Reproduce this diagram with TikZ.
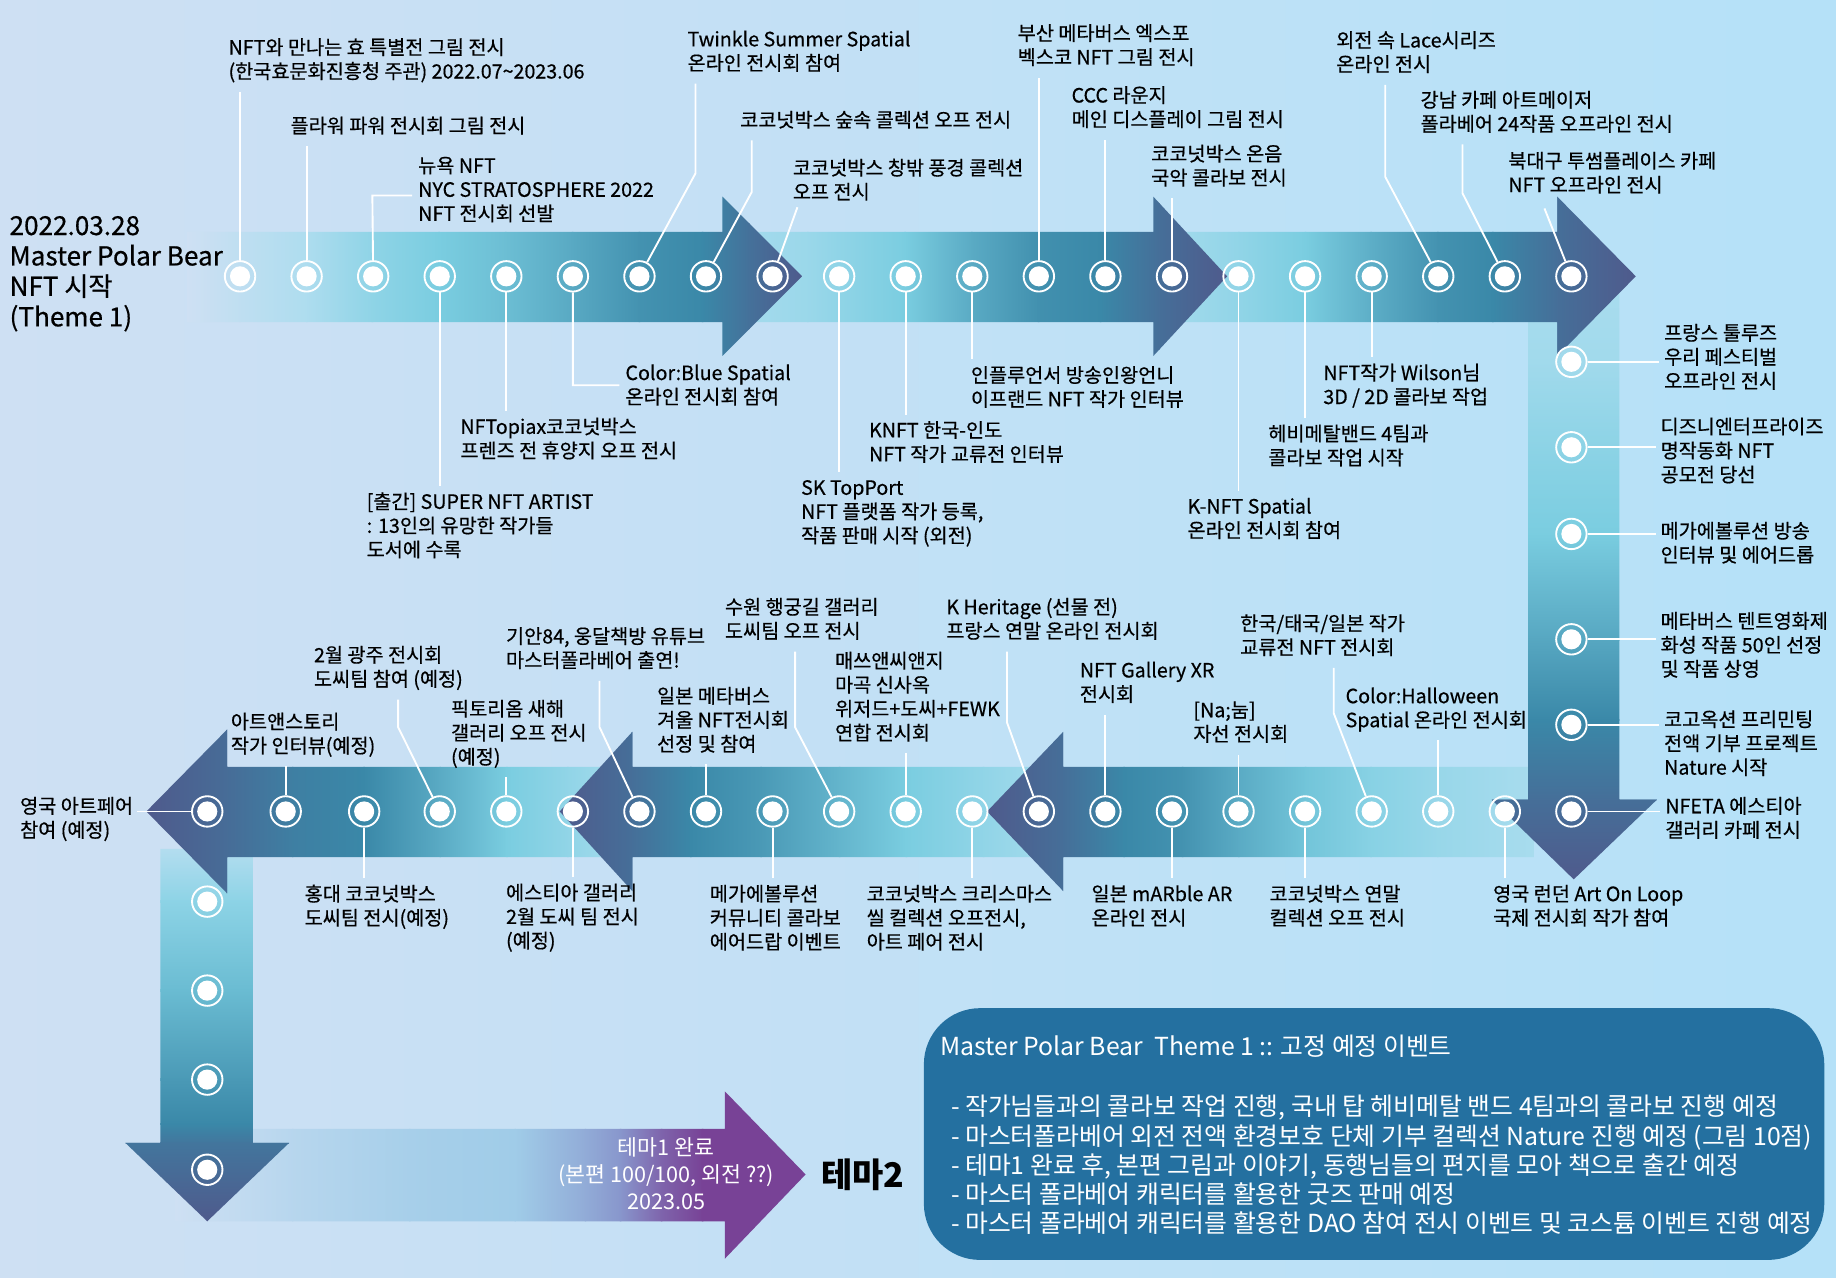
\documentclass[tikz,border=0pt]{standalone}
\usepackage{fontspec}
\setmainfont{Noto Sans CJK KR}
\newfontfamily\medf{Noto Sans CJK KR}[FakeBold=0.5]
\newcommand\lf{\medf\fontsize{16.8}{20.5}\selectfont}
\newcommand\tf{\medf\fontsize{22.3}{26}\selectfont}
\newcommand\boxf{\fontsize{21.2}{24.7}\selectfont}
\newcommand\purf{\fontsize{18.5}{23}\selectfont}
\newcommand\bigf{\fontsize{29}{32}\selectfont\bfseries}
\definecolor{bgL}{RGB}{206,224,243}
\definecolor{bgR}{RGB}{181,225,248}
\definecolor{lightc}{RGB}{168,220,238}
\definecolor{cyanc}{RGB}{122,205,224}
\definecolor{tealc}{RGB}{58,136,168}
\definecolor{slatec}{RGB}{79,90,140}
\definecolor{skyb}{RGB}{160,204,232}
\definecolor{lavc}{RGB}{136,150,204}
\definecolor{purpc}{RGB}{120,66,150}
\definecolor{boxc}{RGB}{36,112,160}
\newcommand\hgrad[5]{%
  \foreach \gx/\gc [remember=\gx as \px (initially #3), remember=\gc as \pc (initially #4)] in {#5}
   {\shade[left color=\pc, right color=\gc] (\px-0.6,#1) rectangle (\gx+0.6,#2);}}
\newcommand\vgrad[5]{%
  \foreach \gy/\gc [remember=\gy as \py (initially #3), remember=\gc as \pc (initially #4)] in {#5}
   {\shade[top color=\pc, bottom color=\gc] (#1,\py-0.6) rectangle (#2,\gy+0.6);}}
\newcommand\lab[4]{\node[lbl] (#1) at (#2,#3-8) {\strut{}#4\strut};}
\begin{document}
\begin{tikzpicture}[x=1pt,y=-1pt,
  lead/.style={draw=white, line width=1.6pt},
  lk/.style={lead, shorten >=5pt},
  dot/.style={circle, minimum size=26pt, inner sep=0pt, draw=white, line width=1.6pt,
    path picture={\fill[white] (path picture bounding box.center) circle (8.6pt);}},
  lbl/.style={anchor=north west, align=left, inner sep=0pt, font=\lf},
  boxst/.style={fill=boxc, rounded corners=48pt, minimum width=769pt, minimum height=215pt, inner sep=0pt},
  btxt/.style={anchor=north west, align=left, inner sep=0pt, font=\boxf, text=white},
  ptxt/.style={align=center, inner sep=0pt, font=\purf, text=white}]
\useasboundingbox (0,0) rectangle (1568,1091);
\shade[left color=bgL, right color=bgR] (0,0) rectangle (1568,1091);

% purple arrow
\begin{scope}
\clip (150,964) -- (619,964) -- (619,932) -- (688,1003) -- (619,1075) -- (619,1043) -- (150,1043) -- cycle;
\hgrad{925}{1080}{150}{bgL}{250/bgL!50!skyb, 350/skyb!85!bgL, 440/skyb, 500/skyb!40!lavc, 530/lavc, 565/lavc!40!purpc, 600/purpc, 688/purpc}
\end{scope}
% left vertical
\begin{scope}
\clip (137,725) -- (216,725) -- (216,976) -- (247,976) -- (177,1043) -- (107,976) -- (137,976) -- cycle;
\vgrad{100}{250}{725}{lightc!70!bgL}{770/lightc!40!cyanc, 846/cyanc!75!tealc, 922/cyanc!25!tealc, 960/tealc, 976/tealc!60!slatec, 1043/slatec}
\end{scope}
% bottom L
\begin{scope}
\clip (540,655) -- (194,655) -- (194,623) -- (125,693) -- (194,763) -- (194,732) -- (540,732) -- cycle;
\hgrad{615}{770}{125}{slatec}{194/tealc!40!slatec, 250/tealc!80!slatec, 311/tealc, 376/cyanc!50!tealc, 433/cyanc, 485/lightc!50!cyanc, 540/lightc}
\end{scope}
% bottom M
\begin{scope}
\clip (908,655) -- (540,655) -- (540,625) -- (478,693) -- (540,761) -- (540,732) -- (908,732) -- cycle;
\hgrad{615}{770}{478}{slatec}{540/tealc!45!slatec, 590/tealc, 650/cyanc!25!tealc, 717/cyanc!65!tealc, 774/cyanc, 840/lightc!50!cyanc, 908/lightc}
\end{scope}
% bottom R
\begin{scope}
\clip (1310,655) -- (908,655) -- (908,625) -- (843,693) -- (908,761) -- (908,732) -- (1310,732) -- cycle;
\hgrad{615}{770}{843}{slatec}{908/tealc!45!slatec, 960/tealc, 1010/cyanc!15!tealc, 1058/cyanc!50!tealc, 1115/cyanc!88!tealc, 1171/lightc!30!cyanc, 1228/lightc!65!cyanc, 1310/lightc}
\end{scope}
% right vertical
\begin{scope}
\clip (1305,250) -- (1383,250) -- (1383,683) -- (1415,683) -- (1344,751) -- (1274,683) -- (1305,683) -- cycle;
\vgrad{1270}{1420}{250}{lightc}{309/lightc!85!cyanc, 382/lightc!40!cyanc, 456/cyanc, 546/cyanc!45!tealc, 615/tealc, 683/tealc!45!slatec, 751/slatec}
\end{scope}
% top 3
\begin{scope}
\clip (985,198) -- (1330,198) -- (1330,168) -- (1397,236) -- (1330,304) -- (1330,275) -- (985,275) -- cycle;
\hgrad{160}{310}{985}{lightc}{1058/lightc!50!cyanc, 1115/cyanc, 1171/cyanc!55!tealc, 1228/cyanc!15!tealc, 1275/tealc, 1330/tealc!45!slatec, 1397/slatec}
\end{scope}
% top 2
\begin{scope}
\clip (617,198) -- (985,198) -- (985,168) -- (1048,236) -- (985,304) -- (985,275) -- (617,275) -- cycle;
\hgrad{160}{310}{617}{lightc}{690/lightc!70!cyanc, 773/cyanc, 830/cyanc!50!tealc, 887/cyanc!12!tealc, 940/tealc, 990/tealc!45!slatec, 1048/slatec}
\end{scope}
% top 1
\begin{scope}
\clip (160,198) -- (617,198) -- (617,168) -- (685,236) -- (617,304) -- (617,275) -- (160,275) -- cycle;
\hgrad{160}{310}{160}{bgL}{205/lightc!40!bgL, 262/lightc!85!bgL, 318/lightc!45!cyanc, 375/cyanc, 432/cyanc!78!tealc, 489/cyanc!48!tealc, 546/cyanc!15!tealc, 600/tealc, 640/tealc!50!slatec, 685/slatec}
\end{scope}

% dots
\foreach \i in {1,...,21} \node[dot] (t\i) at ({205+56.85*(\i-1)},236) {};
\node[dot] (b1) at (177,693) {};
\node[dot] (b2) at (244,693) {};
\node[dot] (b3) at (311,693) {};
\foreach \i in {4,...,20} \node[dot] (b\i) at ({205+56.85*(\i-1)},693) {};
\foreach \i/\y in {1/309,2/382,3/456,4/546,5/619,6/693} \node[dot] (r\i) at (1342,\y) {};
\foreach \i/\y in {1/770,2/846,3/922,4/999} \node[dot] (v\i) at (177,\y) {};

% title
\node[anchor=north west, align=left, inner sep=0pt, font=\tf] (title) at (8,182.3) {\strut{}2022.03.28\\Master Polar Bear\\NFT 시작\\(Theme 1)};

% top labels above
\lab{l1}{195}{40}{NFT와 만나는 효 특별전 그림 전시\\(한국효문화진흥청 주관) 2022.07\textasciitilde2023.06}
\lab{l2}{248}{107}{플라워 파워 전시회 그림 전시}
\lab{l3}{357}{141}{뉴욕 NFT\\NYC STRATOSPHERE 2022\\NFT 전시회 선발}
\lab{l4}{587}{33}{Twinkle Summer Spatial\\온라인 전시회 참여}
\lab{l5}{632}{102}{코코넛박스 숲속 콜렉션 오프 전시}
\lab{l6}{677}{143}{코코넛박스 창밖 풍경 콜렉션\\오프 전시}
\lab{l7}{869}{28}{부산 메타버스 엑스포\\벡스코 NFT 그림 전시}
\lab{l8}{915}{81}{CCC 라운지\\메인 디스플레이 그림 전시}
\lab{l9}{983}{131}{코코넛박스 온음\\국악 콜라보 전시}
\lab{l10}{1141}{34}{외전 속 Lace시리즈\\온라인 전시}
\lab{l11}{1213}{85}{강남 카페 아트메이저\\폴라베어 24작품 오프라인 전시}
\lab{l12}{1288}{137}{북대구 투썸플레이스 카페\\NFT 오프라인 전시}
% top labels below
\lab{lb1}{313}{428}{[출간] SUPER NFT ARTIST\\: 13인의 유망한 작가들\\도서에 수록}
\lab{lb2}{393}{364}{NFTopiax코코넛박스\\프렌즈 전 휴양지 오프 전시}
\lab{lb3}{534}{318}{Color:Blue Spatial\\온라인 전시회 참여}
\lab{lb4}{684}{416}{SK TopPort\\NFT 플랫폼 작가 등록,\\작품 판매 시작 (외전)}
\lab{lb5}{742}{367}{KNFT 한국-인도\\NFT 작가 교류전 인터뷰}
\lab{lb6}{829}{320}{인플루언서 방송인왕언니\\이프랜드 NFT 작가 인터뷰}
\lab{lb7}{1014}{432}{K-NFT Spatial\\온라인 전시회 참여}
\lab{lb8}{1083}{370}{헤비메탈밴드 4팀과\\콜라보 작업 시작}
\lab{lb9}{1130}{318}{NFT작가 Wilson님\\3D / 2D 콜라보 작업}
% right labels
\lab{lr1}{1421}{284}{프랑스 툴루즈\\우리 페스티벌\\오프라인 전시}
\lab{lr2}{1418}{364}{디즈니엔터프라이즈\\명작동화 NFT\\공모전 당선}
\lab{lr3}{1418}{453}{메가에볼루션 방송\\인터뷰 및 에어드롭}
\lab{lr4}{1418}{530}{메타버스 텐트영화제\\화성 작품 50인 선정\\및 작품 상영}
\lab{lr5}{1421}{614}{코고옥션 프리민팅\\전액 기부 프로젝트\\Nature 시작}
\lab{lr6}{1422}{688}{NFETA 에스티아\\갤러리 카페 전시}
% bottom labels above
\lab{la1}{197}{616}{아트앤스토리\\작가 인터뷰(예정)}
\lab{la2}{268}{559}{2월 광주 전시회\\도씨팀 참여 (예정)}
\lab{la3}{385}{605}{픽토리옴 새해\\갤러리 오프 전시\\(예정)}
\lab{la4}{432}{543}{기안84, 웅달책방 유튜브\\마스터폴라베어 출연!}
\lab{la5}{561}{594}{일본 메타버스\\겨울 NFT전시회\\선정 및 참여}
\lab{la6}{619}{518}{수원 행궁길 갤러리\\도씨팀 오프 전시}
\lab{la7}{713}{564}{매쓰앤씨앤지\\마곡 신사옥\\위저드+도씨+FEWK\\연합 전시회}
\lab{la8}{808}{518}{K Heritage (선물 전)\\프랑스 연말 온라인 전시회}
\lab{la9}{922}{572}{NFT Gallery XR\\전시회}
\lab{la10}{1019}{606}{[Na;눔]\\자선 전시회}
\lab{la11}{1059}{532}{한국/태국/일본 작가\\교류전 NFT 전시회}
\lab{la12}{1149}{594}{Color:Halloween\\Spatial 온라인 전시회}
% bottom labels below
\lab{ld0}{17}{688}{영국 아트페어\\참여 (예정)}
\lab{ld1}{260}{763}{홍대 코코넛박스\\도씨팀 전시(예정)}
\lab{ld2}{432}{762}{에스티아 갤러리\\2월 도씨 팀 전시\\(예정)}
\lab{ld3}{606}{763}{메가에볼루션\\커뮤니티 콜라보\\에어드랍 이벤트}
\lab{ld4}{740}{763}{코코넛박스 크리스마스\\씰 컬렉션 오프전시,\\아트 페어 전시}
\lab{ld5}{932}{763}{일본 mARble AR\\온라인 전시}
\lab{ld6}{1084}{763}{코코넛박스 연말\\컬렉션 오프 전시}
\lab{ld7}{1275}{763}{영국 런던 Art On Loop\\국제 전시회 작가 참여}

% leaders top above
\draw[lk] (t1) -- (t1 |- l1.south);
\draw[lk] (t2) -- (t2 |- l2.south);
\coordinate (e3) at (318,167);
\draw[lk] (t3) -- (e3) -- (e3 -| l3.west);
\coordinate (e7) at (594,148);
\draw[lk] (t7) -- (e7) -- (e7 |- l4.south);
\coordinate (e8) at (642,164);
\draw[lk] (t8) -- (e8) -- (e8 |- l5.south);
\coordinate (e9) at (681,177);
\draw[lead] (t9) -- (e9);
\draw[lk] (t13) -- (t13 |- l7.south);
\draw[lk] (t14) -- (t14 |- l8.south);
\draw[lk] (t15) -- (t15 |- l9.south);
\coordinate (e19) at (1183,151);
\draw[lk] (t19) -- (e19) -- (e19 |- l10.south);
\coordinate (e20) at (1249,165);
\draw[lk] (t20) -- (e20) -- (e20 |- l11.south);
\coordinate (e21) at (1319,178);
\draw[lead] (t21) -- (e21);
% leaders top below
\draw[lk] (t4) -- (t4 |- lb1.north);
\draw[lk] (t5) -- (t5 |- lb2.north);
\coordinate (e6) at (489.25,329);
\draw[lk] (t6) -- (e6) -- (e6 -| lb3.west);
\draw[lk] (t10) -- (t10 |- lb4.north);
\draw[lk] (t11) -- (t11 |- lb5.north);
\draw[lk] (t12) -- (t12 |- lb6.north);
\draw[lk] (t16) -- (t16 |- lb7.north);
\draw[lk] (t17) -- (t17 |- lb8.north);
\draw[lk] (t18) -- (t18 |- lb9.north);
% leaders right
\foreach \i in {1,...,6} \draw[lead, shorten >=4pt] (r\i) -- (r\i -| lr\i.west);
% leaders bottom above
\draw[lk] (b2) -- (b2 |- la1.south);
\coordinate (f4) at (340,621);
\draw[lk] (b4) -- (f4) -- (f4 |- la2.south);
\draw[lk] (b5) -- (b5 |- la3.south);
\coordinate (f7) at (512,621);
\draw[lk] (b7) -- (f7) -- (f7 |- la4.south);
\draw[lk] (b8) -- (b8 |- la5.south);
\coordinate (f10) at (679,621);
\draw[lk] (b10) -- (f10) -- (f10 |- la6.south);
\draw[lk] (b11) -- (b11 |- la7.south);
\coordinate (f13) at (860,617);
\draw[lk] (b13) -- (f13) -- (f13 |- la8.south);
\draw[lk] (b14) -- (b14 |- la9.south);
\draw[lk] (b16) -- (b16 |- la10.south);
\coordinate (f18) at (1139,609);
\draw[lk] (b18) -- (f18) -- (f18 |- la11.south);
\draw[lk] (b19) -- (b19 |- la12.south);
% leaders bottom below
\draw[lead, shorten >=3pt] (b1) -- (b1 -| ld0.east);
\draw[lk] (b3) -- (b3 |- ld1.north);
\draw[lk] (b6) -- (b6 |- ld2.north);
\draw[lk] (b9) -- (b9 |- ld3.north);
\draw[lk] (b12) -- (b12 |- ld4.north);
\draw[lk] (b15) -- (b15 |- ld5.north);
\draw[lk] (b17) -- (b17 |- ld6.north);
\draw[lk] (b20) -- (b20 |- ld7.north);

% purple text and theme 2
\node[ptxt] (ptext) at (569,1005) {\strut{}테마1 완료\\(본편 100/100, 외전 ??)\\2023.05\strut};
\node[inner sep=0pt, font=\bigf] (theme2) at (737,1003) {테마2};

% event box
\node[boxst] (evbox) at (1173.5,968.5) {};
\node[btxt] (evtitle) at (803,883.8) {\strut{}Master Polar Bear\ \ Theme 1 :: 고정 예정 이벤트};
\node[btxt] (evlist) at (812,934.8) {\strut{}- 작가님들과의 콜라보 작업 진행, 국내 탑 헤비메탈 밴드 4팀과의 콜라보 진행 예정\\- 마스터폴라베어 외전 전액 환경보호 단체 기부 컬렉션 Nature 진행 예정 (그림 10점)\\- 테마1 완료 후, 본편 그림과 이야기, 동행님들의 편지를 모아 책으로 출간 예정\\- 마스터 폴라베어 캐릭터를 활용한 굿즈 판매 예정\\- 마스터 폴라베어 캐릭터를 활용한 DAO 참여 전시 이벤트 및 코스튬 이벤트 진행 예정};
\end{tikzpicture}
\end{document}
